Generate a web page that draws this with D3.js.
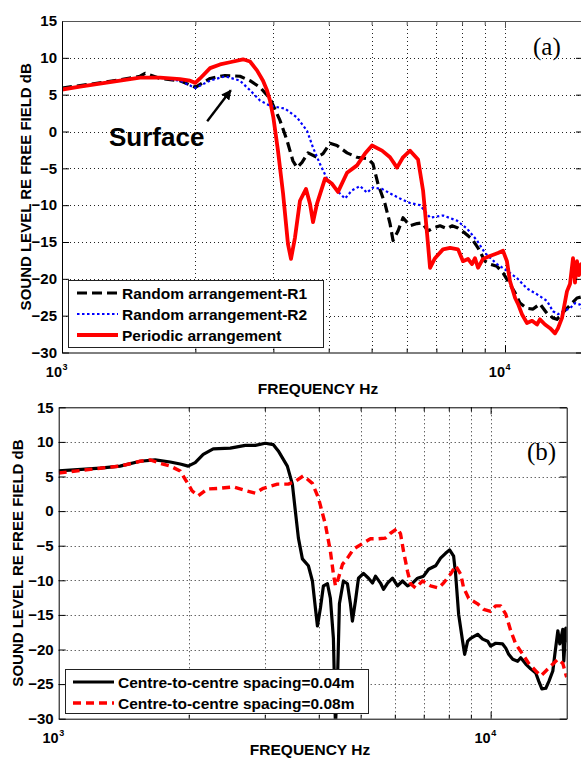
<!DOCTYPE html>
<html>
<head>
<meta charset="utf-8">
<script src="https://cdnjs.cloudflare.com/ajax/libs/d3/7.8.5/d3.min.js"></script>
<style>
  body { margin: 0; background: #fff; }
  svg { display: block; }
</style>
</head>
<body>
<svg id="chart" width="581" height="758"></svg>
<script>
// ---------- data: [frequency Hz, level dB] ----------
const freqDomain = [1000, 15000];
const levelDomain = [-30, 15];
const levelTicks = [-30, -25, -20, -15, -10, -5, 0, 5, 10, 15];
const gridFreqs = [2000, 3000, 4000, 5000, 6000, 7000, 8000, 9000, 10000];
const decadeLabels = [[1000, "3"], [10000, "4"]];

// panel (a)
const randomR1 = [[1000,5.9],[1218,6.6],[1352,7.0],[1500,7.5],[1540,7.9],[1664,7.2],[1847,6.9],[2000,6.0],[2159,7.2],[2333,7.6],[2522,7.5],[2657,6.9],[2799,6.0],[2948,4.5],[3105,1.5],[3220,-1.2],[3322,-4.0],[3393,-4.9],[3482,-4.2],[3592,-2.9],[3764,-3.5],[3884,-3.0],[4027,-1.6],[4176,-1.9],[4400,-2.9],[4634,-3.5],[4906,-3.7],[5035,-4.4],[5167,-7.1],[5359,-9.8],[5501,-12.5],[5588,-14.8],[5735,-13.5],[5886,-11.7],[6105,-12.8],[6331,-12.5],[6497,-12.4],[6703,-13.5],[6880,-13.1],[7135,-12.8],[7397,-13.2],[7592,-12.8],[7834,-13.1],[8125,-13.8],[8424,-14.6],[8692,-15.8],[9013,-17.6],[9250,-18.0],[9592,-18.3],[9897,-19.2],[10160,-20.3],[10540,-21.9],[10810,-23.3],[11210,-24.0],[11570,-24.1],[11990,-23.4],[12440,-24.7],[12830,-25.3],[13100,-25.5],[13450,-24.7],[13800,-24.0],[14170,-23.3],[14540,-22.6],[15000,-22.4]];

const randomR2 = [[1000,5.7],[1218,6.5],[1500,7.4],[1664,7.3],[1847,6.9],[2000,5.9],[2159,6.9],[2333,7.5],[2522,6.9],[2657,5.6],[2799,4.2],[2948,3.5],[3187,3.1],[3393,1.9],[3574,0.1],[3687,-2.2],[3823,-4.4],[3965,-6.4],[4176,-8.0],[4353,-9.1],[4513,-8.0],[4707,-7.4],[4882,-8.3],[5035,-7.6],[5278,-7.8],[5501,-8.4],[5795,-9.1],[6105,-9.7],[6430,-10.0],[6774,-11.7],[7245,-11.4],[7792,-12.1],[8210,-13.2],[8646,-14.8],[9013,-16.5],[9592,-18.0],[10100,-18.9],[10640,-19.9],[11210,-21.3],[11810,-22.1],[12440,-23.0],[12830,-24.4],[13170,-24.8],[13520,-24.4],[14020,-24.0],[14390,-23.3],[14770,-23.5],[15000,-24.4]];

const periodic = [[1000,5.7],[1098,6.1],[1218,6.5],[1352,6.9],[1500,7.3],[1664,7.3],[1847,7.1],[1945,6.9],[2000,6.6],[2049,7.2],[2159,8.6],[2274,9.1],[2394,9.4],[2562,9.8],[2657,9.5],[2755,8.3],[2843,6.9],[2902,5.6],[2948,4.2],[3000,1.9],[3073,-2.6],[3155,-8.4],[3237,-15.3],[3288,-17.3],[3357,-14.4],[3445,-9.4],[3555,-7.8],[3629,-9.8],[3687,-12.3],[3764,-9.8],[3924,-6.4],[4070,-7.1],[4198,-8.2],[4400,-5.6],[4634,-4.6],[4831,-3.0],[5010,-1.9],[5278,-2.6],[5501,-3.5],[5705,-4.9],[5886,-3.5],[6105,-2.6],[6364,-3.8],[6532,-8.0],[6670,-13.9],[6774,-18.5],[6950,-17.2],[7245,-16.0],[7516,-15.8],[7834,-16.0],[8039,-17.6],[8251,-17.3],[8424,-18.0],[8557,-17.2],[8692,-18.5],[8918,-17.3],[9250,-16.9],[9643,-16.5],[9897,-16.2],[10100,-17.6],[10260,-20.3],[10540,-22.6],[10700,-23.4],[10920,-24.8],[11210,-26.0],[11510,-25.7],[11810,-26.2],[11990,-25.5],[12310,-26.2],[12640,-26.7],[12970,-27.4],[13170,-26.7],[13450,-25.3],[13800,-21.7],[14020,-20.7],[14240,-17.2],[14390,-20.5],[14540,-17.6],[14690,-19.5],[14850,-18.0],[15000,-19.0]];

// panel (b)
const spacing004 = [[1000,5.8],[1247,6.2],[1387,6.5],[1543,7.2],[1672,7.4],[1812,7.1],[1911,6.8],[1994,6.5],[2070,7.0],[2161,8.2],[2279,9.0],[2496,9.1],[2704,9.5],[2852,9.5],[3008,9.8],[3140,9.6],[3224,8.7],[3383,6.5],[3475,3.9],[3531,0],[3589,-3.9],[3666,-6.9],[3785,-7.9],[3867,-10.1],[3929,-14.0],[3972,-16.6],[4036,-14.0],[4101,-10.8],[4190,-10.5],[4256,-12.6],[4325,-18.4],[4372,-31],[4418,-25],[4466,-13.4],[4562,-10.1],[4661,-10.5],[4736,-13.4],[4786,-15.9],[4864,-13.0],[4943,-9.7],[5077,-9.0],[5215,-9.7],[5327,-10.4],[5413,-9.4],[5559,-10.4],[5649,-11.3],[5771,-10.4],[5927,-9.7],[6087,-10.8],[6252,-10.1],[6421,-10.8],[6595,-10.4],[6773,-9.7],[6994,-9.4],[7183,-8.4],[7457,-7.9],[7657,-6.8],[7864,-6.1],[8035,-5.6],[8209,-6.5],[8297,-9.1],[8431,-14.9],[8612,-18.8],[8706,-20.7],[8847,-18.8],[8988,-18.4],[9330,-17.8],[9583,-18.5],[9842,-18.8],[10000,-19.5],[10270,-19.1],[10660,-19.2],[10840,-19.8],[11010,-20.7],[11250,-21.4],[11550,-21.7],[11740,-21.2],[12060,-22.1],[12380,-22.8],[12720,-23.4],[12930,-24.6],[13140,-25.7],[13420,-25.6],[13640,-24.6],[13930,-23.1],[14080,-20.7],[14310,-17.3],[14460,-19.2],[14690,-17.1],[14770,-21.7],[14930,-16.9],[15000,-19.0]];

const spacing008 = [[1000,5.5],[1247,6.2],[1387,6.5],[1543,7.2],[1628,7.4],[1718,6.9],[1812,6.5],[1911,5.8],[1963,4.6],[2038,2.9],[2104,2.2],[2208,3.2],[2366,3.3],[2536,3.5],[2733,2.9],[2852,2.6],[2977,3.3],[3208,3.9],[3401,3.9],[3531,4.3],[3685,5.1],[3867,4.0],[3993,1.9],[4143,-1.9],[4256,-5.8],[4325,-9.1],[4372,-10.8],[4442,-9.7],[4539,-7.7],[4661,-6.8],[4812,-5.5],[5077,-4.6],[5269,-4.0],[5499,-4.0],[5708,-3.9],[5864,-3.2],[6087,-2.5],[6186,-3.3],[6285,-5.8],[6421,-8.7],[6525,-10.5],[6701,-11.1],[6955,-10.1],[7259,-10.8],[7574,-11.1],[7780,-10.4],[8077,-9.1],[8297,-7.9],[8521,-9.1],[8660,-11.1],[8894,-12.6],[9330,-13.4],[9632,-14.2],[10000,-14.5],[10270,-13.7],[10550,-13.7],[10840,-14.9],[11130,-17.3],[11430,-19.2],[11870,-20.7],[12250,-22.0],[12720,-23.1],[13070,-23.8],[13420,-23.1],[13780,-22.4],[14310,-21.4],[14690,-22.0],[14930,-23.6],[15000,-24.0]];

const legendA = ["Random arrangement-R1", "Random arrangement-R2", "Periodic arrangement"];
const legendB = ["Centre-to-centre spacing=0.04m", "Centre-to-centre spacing=0.08m"];
const yAxisTitle = "SOUND LEVEL RE FREE FIELD dB";
const xAxisTitle = "FREQUENCY Hz";

// ---------- drawing ----------
const svg = d3.select("#chart");
const SANS = "Arial, 'Liberation Sans', Helvetica, sans-serif";

const styles = {
  r1:  { color: "#000000", width: 3.2, dash: "10,5" },
  r2:  { color: "#0000ff", width: 2.2, dash: "2.5,2.5" },
  per: { color: "#ff0000", width: 3.8, dash: null },
  s04: { color: "#000000", width: 3.2, dash: null },
  s08: { color: "#ff0000", width: 3.4, dash: "8,5" }
};

function drawPanel(p) {
  const x = d3.scaleLog().domain(freqDomain).range([p.left, p.right]);
  const y = d3.scaleLinear().domain(levelDomain).range([p.bottom, p.top]);
  const g = svg.append("g");

  g.append("clipPath").attr("id", "clip-" + p.id)
    .append("rect")
    .attr("x", p.left).attr("y", p.top)
    .attr("width", p.right - p.left).attr("height", p.bottom - p.top);

  // dotted grid
  const grid = g.append("g")
    .attr("stroke", "#222").attr("stroke-width", 1)
    .attr("stroke-dasharray", "1,3");
  grid.selectAll("line.gx").data(gridFreqs).join("line")
    .attr("class", "gx")
    .attr("x1", d => Math.round(x(d)) + 0.5).attr("x2", d => Math.round(x(d)) + 0.5)
    .attr("y1", p.top).attr("y2", p.bottom);
  grid.selectAll("line.gy").data(levelTicks.slice(1, -1)).join("line")
    .attr("class", "gy")
    .attr("x1", p.left).attr("x2", p.right)
    .attr("y1", d => Math.round(y(d)) + 0.5).attr("y2", d => Math.round(y(d)) + 0.5);

  // series
  const line = d3.line().x(d => x(d[0])).y(d => y(d[1]));
  p.series.forEach(s => {
    const st = styles[s.style];
    g.append("path").datum(s.data)
      .attr("clip-path", `url(#clip-${p.id})`)
      .attr("fill", "none")
      .attr("stroke", st.color)
      .attr("stroke-width", st.width)
      .attr("stroke-linejoin", "round")
      .attr("stroke-dasharray", st.dash)
      .attr("d", line);
  });

  // axes (ticks inward)
  const fmtAxis = sel => {
    sel.selectAll("text").attr("font-family", SANS).attr("font-weight", "bold")
      .attr("font-size", 15).attr("fill", "#000");
    sel.selectAll(".tick line").attr("stroke", "#000");
  };
  const left = g.append("g").attr("transform", `translate(${p.left},0)`)
    .call(d3.axisLeft(y).tickValues(levelTicks).tickSizeInner(-7).tickSizeOuter(0).tickPadding(5));
  fmtAxis(left);
  left.select(".domain").attr("stroke", "#000");
  const right = g.append("g").attr("transform", `translate(${p.right},0)`)
    .call(d3.axisRight(y).tickValues(levelTicks).tickSizeInner(-7).tickSizeOuter(0).tickFormat(""));
  right.select(".domain").attr("stroke", "#000");

  const bottom = g.append("g").attr("transform", `translate(0,${p.bottom})`)
    .call(d3.axisBottom(x).tickValues(gridFreqs).tickSizeInner(-4).tickSizeOuter(0).tickFormat(""));
  bottom.selectAll(".tick line").attr("y2", d => d === 10000 ? -7 : -4).attr("stroke", "#000");
  bottom.select(".domain").attr("stroke", "#000");
  const top = g.append("g").attr("transform", `translate(0,${p.top})`)
    .call(d3.axisTop(x).tickValues(gridFreqs).tickSizeInner(-4).tickSizeOuter(0).tickFormat(""));
  top.selectAll(".tick line").attr("y2", d => d === 10000 ? 7 : 4).attr("stroke", p.topColor);
  top.select(".domain").attr("stroke", p.topColor);

  // decade labels 10^n
  decadeLabels.forEach(([f, e]) => {
    g.append("text")
      .attr("x", x(f)).attr("y", p.bottom + 24)
      .attr("text-anchor", "end")
      .attr("font-family", SANS).attr("font-size", 14.5).attr("font-weight", "bold")
      .text("10");
    g.append("text")
      .attr("x", x(f) + 0.5).attr("y", p.bottom + 17)
      .attr("font-family", SANS).attr("font-size", 9).attr("font-weight", "bold")
      .text(e);
  });

  // axis titles
  g.append("text")
    .attr("transform", `translate(${p.yTitleX},${(p.top + p.bottom) / 2}) rotate(-90)`)
    .attr("text-anchor", "middle")
    .attr("font-family", SANS).attr("font-weight", "bold").attr("font-size", 15)
    .text(yAxisTitle);
  g.append("text")
    .attr("x", p.xTitleX).attr("y", p.xTitleY)
    .attr("text-anchor", "middle")
    .attr("font-family", SANS).attr("font-weight", "bold").attr("font-size", 15.5)
    .text(xAxisTitle);

  // panel tag
  g.append("text")
    .attr("x", p.tagX).attr("y", p.tagY)
    .attr("font-family", "'Times New Roman', 'Liberation Serif', serif").attr("font-size", 25)
    .text(p.tag);

  // legend
  const lg = g.append("g");
  lg.append("rect")
    .attr("x", p.legend.x + 0.5).attr("y", p.legend.y + 0.5)
    .attr("width", p.legend.w).attr("height", p.legend.h)
    .attr("fill", "#fff").attr("stroke", "#222").attr("stroke-width", 1);
  p.series.forEach((s, i) => {
    const st = styles[s.style];
    const ly = p.legend.y + p.legend.first + i * p.legend.step;
    lg.append("line")
      .attr("x1", p.legend.x + p.legend.s0).attr("x2", p.legend.x + p.legend.s1)
      .attr("y1", ly).attr("y2", ly)
      .attr("stroke", st.color).attr("stroke-width", st.width)
      .attr("stroke-dasharray", st.dash);
    lg.append("text")
      .attr("x", p.legend.x + p.legend.s1 + 4).attr("y", ly + 5.5)
      .attr("font-family", SANS).attr("font-weight", "bold").attr("font-size", 15.5)
      .text(s.name);
  });

  return { x, y, g };
}

const A = drawPanel({
  id: "a", left: 62, right: 583, top: 21, bottom: 352.5, topColor: "#555",
  yTitleX: 31, xTitleX: 318, xTitleY: 394,
  tag: "(a)", tagX: 533, tagY: 55,
  legend: { x: 68, y: 280, w: 255, h: 67, first: 13, step: 21, s0: 9, s1: 50 },
  series: [
    { name: legendA[0], data: randomR1, style: "r1" },
    { name: legendA[1], data: randomR2, style: "r2" },
    { name: legendA[2], data: periodic, style: "per" }
  ]
});

// annotation: arrow pointing at the surface peak
const defs = svg.append("defs");
defs.append("marker").attr("id", "head")
  .attr("viewBox", "0 0 10 10").attr("refX", 9).attr("refY", 5)
  .attr("markerWidth", 4.2).attr("markerHeight", 4.2).attr("orient", "auto")
  .append("path").attr("d", "M0,0 L10,5 L0,10 Z").attr("fill", "#000");
A.g.append("line")
  .attr("x1", A.x(2127)).attr("y1", A.y(1.4))
  .attr("x2", A.x(2405)).attr("y2", A.y(5.6))
  .attr("stroke", "#000").attr("stroke-width", 2.4)
  .attr("marker-end", "url(#head)");
A.g.append("text")
  .attr("x", A.x(1277)).attr("y", A.y(-2.0))
  .attr("font-family", SANS).attr("font-weight", "bold").attr("font-size", 26)
  .text("Surface");

drawPanel({
  id: "b", left: 58.7, right: 566.7, top: 407.3, bottom: 718.7, topColor: "#000",
  yTitleX: 23, xTitleX: 310, xTitleY: 755,
  tag: "(b)", tagX: 527, tagY: 460,
  legend: { x: 65, y: 669, w: 303, h: 44, first: 13, step: 21, s0: 8, s1: 49 },
  series: [
    { name: legendB[0], data: spacing004, style: "s04" },
    { name: legendB[1], data: spacing008, style: "s08" }
  ]
});
</script>
</body>
</html>
